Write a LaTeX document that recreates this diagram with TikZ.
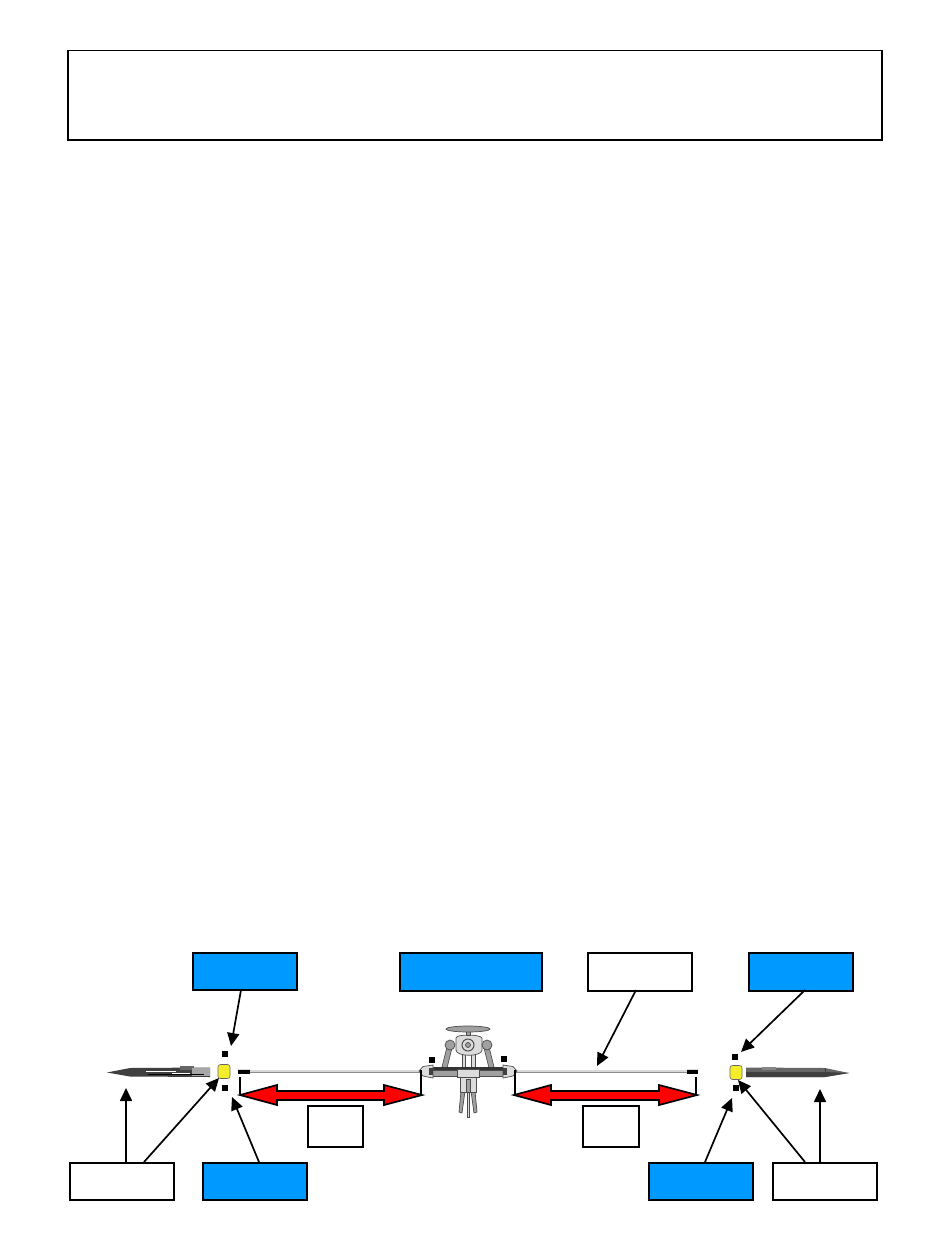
\documentclass[tikz,border=0pt]{standalone}
\usetikzlibrary{arrows.meta,positioning}
\definecolor{callblue}{HTML}{0099FF}
\definecolor{bladedark}{HTML}{3F3F3F}
\definecolor{bladegray}{HTML}{666666}
\definecolor{partgray}{HTML}{A0A0A0}
\definecolor{partlight}{HTML}{DCDCDC}
\definecolor{yellowpart}{HTML}{F5EC2A}
\tikzset{
  x=1pt,y=-1pt,
  callout/.style={draw=black,line width=1.5pt,rectangle,inner sep=0pt,anchor=north west},
  whitebox/.style={callout,fill=white},
  bluebox/.style={callout,fill=callblue},
  leader/.style={draw=black,line width=1.7pt,-{Triangle[length=13pt,width=12pt]}},
  redarrow/.style={fill=red,draw=black,line width=1.7pt,line join=miter},
  tick/.style={draw=black,line width=1.7pt},
  dotmark/.style={fill=black,draw=none,rectangle,minimum size=5.5pt,inner sep=0pt},
  mech/.style={draw=black!70,line width=.7pt,fill=partgray},
  mechlight/.style={draw=black!70,line width=.7pt,fill=partlight},
  roddark/.style={draw=gray!90,line width=1pt},
  rodlight/.style={draw=gray!30,line width=4pt},
}
\begin{document}
\begin{tikzpicture}
\useasboundingbox (0,0) rectangle (950,1244);
\fill[white] (0,0) rectangle (950,1244);

% top frame
\node[whitebox,minimum width=814pt,minimum height=89pt] (top) at (67,50) {};

% callout boxes
\node[bluebox,minimum width=104pt,minimum height=37pt] (tipL) at (192,952) {};
\node[bluebox,minimum width=142pt,minimum height=38pt] (head) at (399,952) {};
\node[whitebox,minimum width=104pt,minimum height=38pt] (rodbox) at (587,952) {};
\node[bluebox,minimum width=104pt,minimum height=38pt] (tipR) at (748,952) {};
\node[whitebox,minimum width=104pt,minimum height=37pt] (bladeL) at (69,1162) {};
\node[bluebox,minimum width=104pt,minimum height=37pt] (lowL) at (202,1162) {};
\node[whitebox,minimum width=55pt,minimum height=41pt] (spanL) at (307,1105) {};
\node[whitebox,minimum width=56pt,minimum height=41pt] (spanR) at (582,1105) {};
\node[bluebox,minimum width=104pt,minimum height=37pt] (lowR) at (648,1162) {};
\node[whitebox,minimum width=104pt,minimum height=37pt] (bladeR) at (772,1162) {};

% blades
\fill[bladedark] (107,1072.5) -- (130,1068) -- (210,1067.5) -- (210,1077) -- (130,1076.5) -- cycle;
\fill[bladegray] (180,1066) rectangle (194,1070);
\fill[gray!70] (192,1068) rectangle (210,1076);
\draw[white,line width=.9pt] (146,1071) -- (176,1071) (172,1073.5) -- (190,1073.5);
\draw[black,line width=1pt] (148,1074) -- (204,1074);
\fill[bladegray] (746,1067.5) -- (825,1068) -- (849,1073) -- (825,1077) -- (746,1077) -- cycle;
\fill[bladedark] (746,1072) -- (825,1072) -- (849,1073) -- (825,1077) -- (746,1077) -- cycle;
\fill[bladegray!80] (762,1066.5) rectangle (776,1070);
\draw[black!75,line width=.6pt] (825,1068) -- (825,1077);

% yellow pieces
\node[draw=black!60,fill=yellowpart,line width=.6pt,rounded corners=2.5pt,minimum width=12pt,minimum height=14pt,inner sep=0pt] (yellowL) at (224,1071.5) {};
\node[draw=black!60,fill=yellowpart,line width=.6pt,rounded corners=2.5pt,minimum width=12pt,minimum height=14pt,inner sep=0pt] (yellowR) at (736,1072.5) {};

% rods
\draw[rodlight] (238,1071) -- (420,1071);
\draw[white,line width=1.2pt] (250,1069.5) -- (420,1069.5);
\draw[roddark] (250,1072) -- (420,1072);
\draw[black,line width=4pt] (238,1071.5) -- (250,1071.5);
\draw[rodlight] (516,1071) -- (698,1071);
\draw[white,line width=1.2pt] (516,1069.5) -- (687,1069.5);
\draw[roddark] (516,1072) -- (687,1072);
\draw[black,line width=4pt] (687,1071.5) -- (698,1071.5);

% rotor head: lower assembly
\draw[mechlight] (467,1078) rectangle (469,1117);
\draw[mech] (461,1091) -- (465,1091) -- (462,1113) -- (459,1112) -- cycle;
\draw[mech] (471,1091) -- (475,1091) -- (477,1112) -- (474,1113) -- cycle;
\draw[mechlight] (460,1077) rectangle (476,1092);
\draw[mech] (466,1079) rectangle (470,1092);
% rotor head: arms and pillars
\draw[mech] (442,1067) -- (447,1047) -- (452,1048) -- (447,1068) -- cycle;
\draw[mech] (489,1068) -- (484,1048) -- (489,1047) -- (494,1067) -- cycle;
\draw[mechlight] (462,1054) rectangle (465.5,1068);
\draw[mechlight] (471.5,1054) rectangle (475,1068);
% rotor head: upper body
\draw[mechlight] (456,1038) .. controls (456,1034) and (480,1034) .. (482,1038) -- (482,1050) .. controls (482,1057) and (456,1057) .. (456,1050) -- cycle;
\draw[mech] (450,1045) circle [radius=5];
\draw[mech] (487,1045) circle [radius=5];
\draw[mechlight,line width=1pt] (468,1045) circle [radius=6];
\draw[mech] (468,1045) circle [radius=2.5];
\draw[mech] (466,1029) rectangle (470,1035);
\draw[mech] (468,1029) ellipse [x radius=22,y radius=3];
% rotor head: cross bar and hubs
\draw[black!80,line width=3pt] (428,1068.5) -- (508,1068.5);
\draw[mech] (430,1070) rectangle (506,1076);
\draw[mechlight] (457,1069) rectangle (479,1077);
\draw[mechlight] (433,1065) -- (423,1066.5) -- (419,1071) -- (423,1076) -- (433,1078) -- cycle;
\draw[mechlight] (503,1065) -- (513,1066.5) -- (517,1071) -- (513,1076) -- (503,1078) -- cycle;
\fill[black!75] (429,1068) rectangle (433,1075);
\fill[black!75] (503,1068) rectangle (507,1075);

% small square marks
\node[dotmark] (dotA) at (225,1054) {};
\node[dotmark] (dotB) at (225,1088) {};
\node[dotmark] (dotC) at (735,1057) {};
\node[dotmark] (dotD) at (736,1088) {};
\node[dotmark] (dotE) at (432,1060) {};
\node[dotmark] (dotF) at (504,1059) {};

% span brackets
\draw[tick] (240,1077) -- (240,1094);
\draw[tick] (421,1070) -- (421,1094);
\draw[tick] (515,1070) -- (515,1094);
\draw[tick] (696,1077) -- (696,1094);

% red double arrows
\draw[redarrow] (240,1095) -- (277,1085) -- (277,1091) -- (384,1091) -- (384,1085) -- (422,1095) -- (384,1105) -- (384,1100) -- (277,1100) -- (277,1105) -- cycle;
\draw[redarrow] (514,1095) -- (551,1085) -- (551,1091) -- (659,1091) -- (659,1085) -- (697,1095) -- (659,1105) -- (659,1100) -- (551,1100) -- (551,1105) -- cycle;

% leaders
\coordinate (aTipL) at (231,1046);
\coordinate (aRod) at (597,1066);
\coordinate (aTipR) at (741,1052);
\coordinate (aBladeL) at (126,1088);
\coordinate (aYellowL) at (219,1078);
\coordinate (aLowL) at (232,1097);
\coordinate (aLowR) at (732,1098);
\coordinate (aYellowR) at (738,1080);
\coordinate (aBladeR) at (820,1089);
\coordinate (sTipL) at (241,990);
\coordinate (sRod) at (636,990);
\coordinate (sTipR) at (805,990);
\coordinate (sBladeLa) at (126,1162);
\coordinate (sBladeLb) at (144,1162);
\coordinate (sLowL) at (259,1162);
\coordinate (sLowR) at (705,1162);
\coordinate (sBladeRa) at (805,1162);
\coordinate (sBladeRb) at (820,1162);
\draw[leader] (sTipL) -- (aTipL);
\draw[leader] (sRod) -- (aRod);
\draw[leader] (sTipR) -- (aTipR);
\draw[leader] (sBladeLa) -- (aBladeL);
\draw[leader] (sBladeLb) -- (aYellowL);
\draw[leader] (sLowL) -- (aLowL);
\draw[leader] (sLowR) -- (aLowR);
\draw[leader] (sBladeRa) -- (aYellowR);
\draw[leader] (sBladeRb) -- (aBladeR);
\end{tikzpicture}
\end{document}
